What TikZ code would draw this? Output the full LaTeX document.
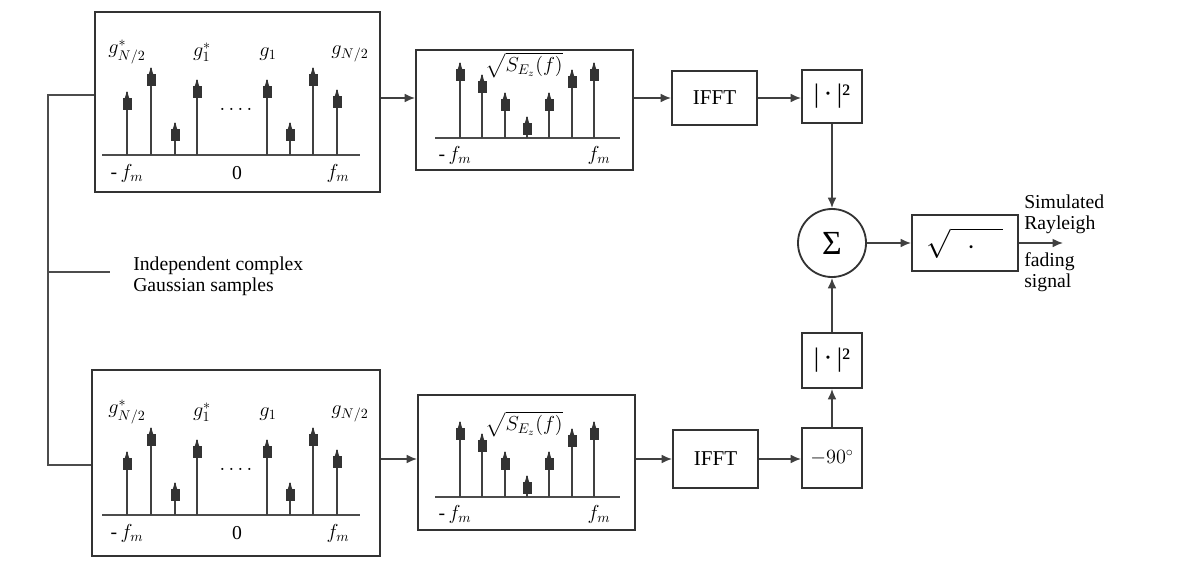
\documentclass[tikz,border=0pt]{standalone}
\usepackage{fontspec}
\usepackage{amsmath}
\setmainfont{Liberation Serif}
\usetikzlibrary{arrows.meta,calc}

\begin{document}
\begin{tikzpicture}[x=0.025cm, y=-0.025cm,
  blk/.style={draw=black!80, line width=1.3pt, fill=white, inner sep=0pt,
              minimum width=#1},
  arr/.style={draw=black!75, line width=1.2pt, -{Latex[length=2.6mm,width=2.2mm]}},
  wire/.style={draw=black!70, line width=1.3pt},
  stem/.style={draw=black!75, line width=1.3pt},
  blob/.style={fill=black!80},
  lbl/.style={font=\fontsize{14}{15}\selectfont, inner sep=0pt}]

  \fill[white] (0,0) rectangle (1202,568);

  % spectrum boxes
  \node[blk=7.125cm, minimum height=4.5cm]   (gtop) at (237.5,102) {};
  \node[blk=7.2cm,   minimum height=4.65cm]  (gbot) at (236,463)   {};
  \node[blk=5.425cm, minimum height=3.0cm]   (stop) at (524.5,110) {};
  \node[blk=5.425cm, minimum height=3.375cm] (sbot) at (526.5,462.5) {};

  % processing blocks
  \node[blk=2.125cm, minimum height=1.35cm, font=\fontsize{15}{17}\selectfont] (iffta) at (714.5,98)  {IFFT};
  \node[blk=2.125cm, minimum height=1.45cm, font=\fontsize{15}{17}\selectfont] (ifftb) at (715.5,459) {IFFT};
  \node[blk=1.5cm, minimum height=1.325cm, font=\fontsize{19}{21}\selectfont] (absa) at (832,96.5)  {|\,·\,|²};
  \node[blk=1.5cm, minimum height=1.375cm, font=\fontsize{19}{21}\selectfont] (absb) at (832,360.5) {|\,·\,|²};
  \node[blk=1.5cm, minimum height=1.5cm, font=\fontsize{14}{16}\selectfont]   (rot)  at (832,458)   {$-90^{\circ}$};
  \node[draw=black!80, line width=1.3pt, circle, minimum size=1.7cm, inner sep=0pt,
        font=\fontsize{24}{28}\selectfont] (sum) at (832,243) {Σ};
  \node[blk=2.65cm, minimum height=1.4cm, font=\fontsize{20}{24}\selectfont] (root) at (965,243)
       {$\sqrt{\vphantom{A}\hspace{4mm}\cdot\hspace{7mm}}$};

  % stems of the Gaussian samples
  \foreach \dy in {0,360} {
    \begin{scope}[shift={(0,\dy)}]
      \draw[wire] (102,155) -- (360,155);
      \foreach \x/\h in {127/63, 151/87, 175/32, 197/75, 267/75, 290/32, 313/87, 337/65} {
        \draw[stem] (\x,155) -- (\x,155-\h);
        \fill[blob] (\x-4.5,155-\h+6) rectangle (\x+4.5,155-\h+18);
        \fill[blob] (\x-2.5,155-\h+7) -- (\x,155-\h-1) -- (\x+2.5,155-\h+7) -- cycle;
      }
      \node[lbl] at (127,52) {$g^{*}_{N/2}$};
      \node[lbl] at (202,52) {$g^{*}_{1}$};
      \node[lbl] at (268,54) {$g_{1}$};
      \node[lbl] at (350,54) {$g_{N/2}$};
      \node[lbl] at (236,110) {$\cdots\cdot$};
      \node[lbl] at (127,173) {-\,$f_m$};
      \node[lbl] at (237,173) {0};
      \node[lbl] at (338,173) {$f_m$};
    \end{scope}
  }

  % stems of the Doppler filter
  \foreach \dy in {0,359} {
    \begin{scope}[shift={(0,\dy)}]
      \draw[wire] (435,138) -- (620,138);
      \foreach \x/\h in {460/75, 482/63, 505/45, 527/21, 549/45, 572/68, 594/75} {
        \draw[stem] (\x,138) -- (\x,138-\h);
        \fill[blob] (\x-4.5,138-\h+6) rectangle (\x+4.5,138-\h+18);
        \fill[blob] (\x-2.5,138-\h+7) -- (\x,138-\h-1) -- (\x+2.5,138-\h+7) -- cycle;
      }
      \node[lbl] at (524,65) {$\sqrt{S_{E_z}(f)}$};
      \node[lbl] at (455,155) {-\,$f_m$};
      \node[lbl] at (599,155) {$f_m$};
    \end{scope}
  }

  % sample source
  \coordinate (tapa) at (48,95);
  \coordinate (tapb) at (48,465);
  \coordinate (tick) at (110,272);
  \draw[wire] (gtop.west |- tapa) -- (tapa) -- (tapb) -- (gbot.west |- tapb);
  \draw[wire] (tick -| tapa) -- (tick);
  \node[lbl, anchor=west, align=left] (gauss) at (133,276)
       {Independent complex\\Gaussian samples};

  % upper branch
  \draw[arr] (gtop.east |- iffta) -- (stop.west |- iffta);
  \draw[arr] (stop.east |- iffta) -- (iffta.west);
  \draw[arr] (iffta.east) -- (iffta.east -| absa.west);
  \draw[arr] (absa.south) -- (sum.north);

  % lower branch
  \draw[arr] (gbot.east |- ifftb) -- (sbot.west |- ifftb);
  \draw[arr] (sbot.east |- ifftb) -- (ifftb.west);
  \draw[arr] (ifftb.east) -- (ifftb.east -| rot.west);
  \draw[arr] (rot.north) -- (absb.south);
  \draw[arr] (absb.north) -- (sum.south);

  % output
  \draw[arr] (sum.east) -- (root.west);
  \coordinate (out) at (1063,243);
  \draw[arr] (root.east) -- (out);
  \node[lbl, anchor=south west, align=left] (simtxt) at (1024,234) {Simulated\\Rayleigh};
  \node[lbl, anchor=north west, align=left] (fadtxt) at (1024,252) {fading\\signal};
\end{tikzpicture}
\end{document}
